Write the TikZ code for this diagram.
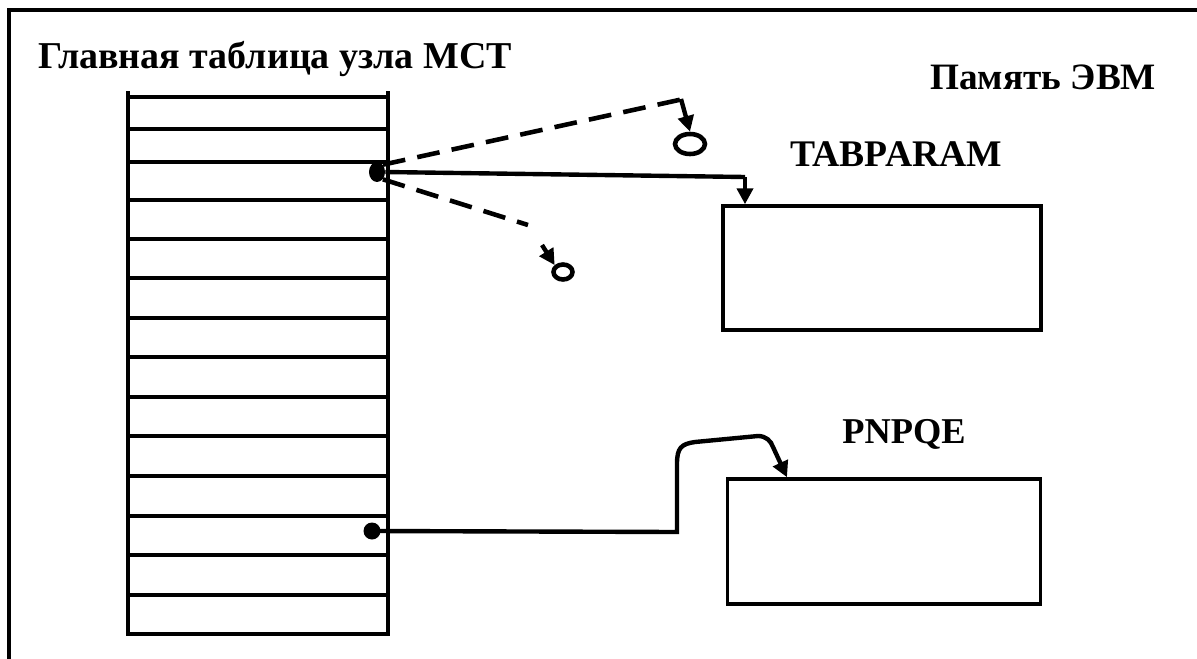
\documentclass[tikz,border=0pt]{standalone}
\usepackage{fontspec}
\setmainfont{Liberation Serif}
\usetikzlibrary{arrows.meta,shapes.geometric}
\tikzset{
  lbl/.style={inner sep=0pt, anchor=base west},
  tline/.style={line width=2.1pt},
  conn/.style={line width=2.5pt},
  dconn/.style={line width=2.6pt, dash pattern=on 13pt off 7pt},
  tip/.style={-{Triangle[length=9pt,width=9pt]}},
  memblock/.style={draw, line width=2pt, rectangle, inner sep=0pt},
  ring/.style={draw, line width=2.6pt, ellipse, inner sep=0pt},
  blob/.style={fill, circle, inner sep=0pt},
}
\begin{document}
\begin{tikzpicture}[x=0.02cm, y=-0.02cm]
\useasboundingbox (0,0) rectangle (1197,659);
% frame (extends beyond the picture)
\draw[line width=2.4pt] (9,670) -- (9,10) -- (1210,10);
% labels
\node[lbl, font=\bfseries\fontsize{21.6}{25}\selectfont] (title) at (38,68) {Главная таблица узла МСТ};
\node[lbl, font=\bfseries\fontsize{21.2}{25}\selectfont] (mem) at (930,89) {Память ЭВМ};
\node[lbl, font=\bfseries\fontsize{21.4}{25}\selectfont] (tplbl) at (790,166) {TABPARAM};
\node[lbl, font=\bfseries\fontsize{20.7}{25}\selectfont] (pqlbl) at (842,443) {PNPQE};
% main table
\node[draw=none, minimum width=5.2cm, minimum height=10.74cm, inner sep=0pt] (tab) at (258,365.5) {};
\draw[tline] (128,91) -- (128,634) -- (388,634) -- (388,91);
\foreach \yy in {97,129,162,200,239,278,318,357,397,436,476,516,555,595}
  \draw[tline] (128,\yy) -- (388,\yy);
% memory blocks
\node[memblock, minimum width=6.36cm, minimum height=2.48cm] (tp) at (882,268) {};
\node[memblock, minimum width=6.26cm, minimum height=2.5cm] (pq) at (884,541.5) {};
% pointers
\node[blob, ellipse, minimum width=0.32cm, minimum height=0.4cm] (d1) at (377,172) {};
\node[blob, minimum size=0.34cm] (d2) at (372,531) {};
\coordinate (t1) at (745,177);
\draw[conn] (d1.east) -- (t1);
\draw[conn, tip] (t1) -- (tp.north west -| t1);
% dashed alternatives
\node[ring, minimum width=0.6cm, minimum height=0.4cm] (r1) at (690,144) {};
\node[ring, minimum width=0.38cm, minimum height=0.3cm] (r2) at (563,272) {};
\coordinate (e1) at (688,98);
\coordinate (e2) at (528,225);
\draw[dconn] (d1.north east) -- (e1);
\draw[dconn] (d1.south east) -- (e2);
\coordinate (a1) at (681,99);
\coordinate (a2) at (542,245);
\draw[conn, tip] (a1) -- (r1.north);
\draw[conn, tip] (a2) -- (r2.north west);
% lower pointer
\coordinate (b1) at (677,532);
\coordinate (t2) at (787,0);
\draw[conn, tip] (d2.center) -- (b1) -- (677,464)
  .. controls (677,448) and (681,444) .. (695,442)
  -- (758,436)
  .. controls (766,436) and (771,441) .. (773,447)
  -- (pq.north west -| t2);
\end{tikzpicture}
\end{document}
